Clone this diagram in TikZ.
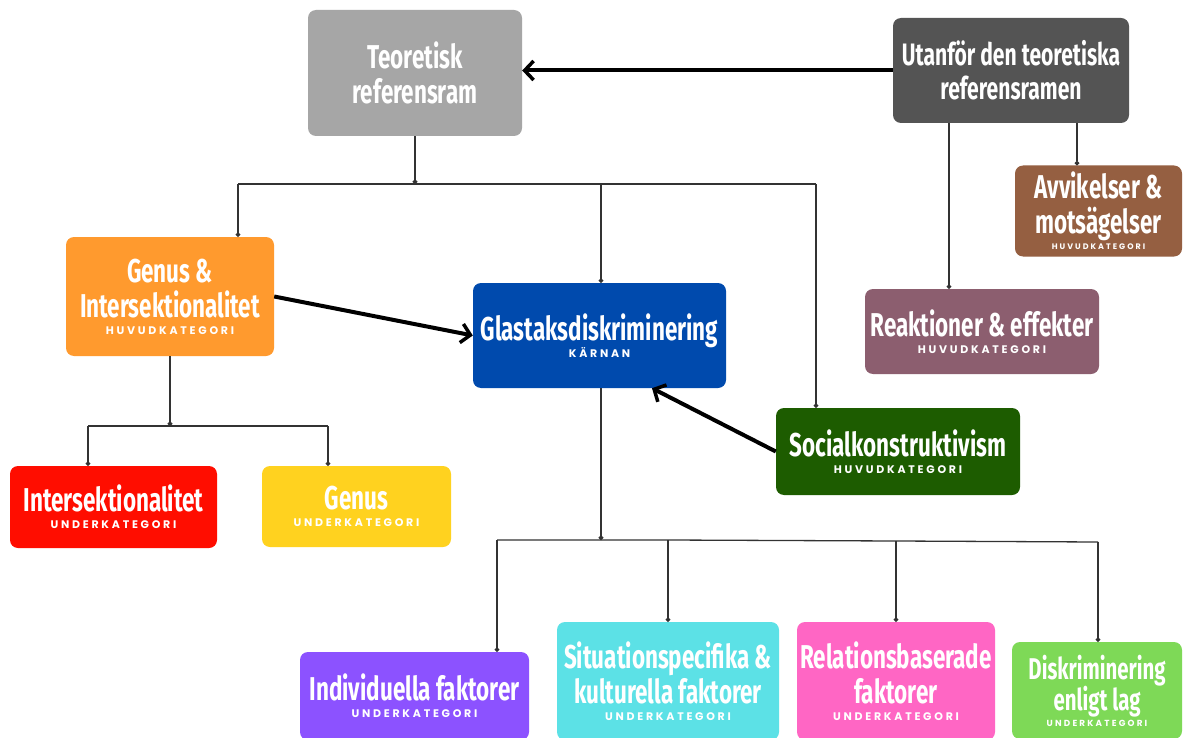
\documentclass[tikz,border=0pt]{standalone}
\usepackage{fontspec}
\usetikzlibrary{arrows.meta,calc}
\newfontfamily\titlefont[FakeStretch=0.68]{Fira Sans}
\newfontfamily\subfont[LetterSpace=25]{Poppins}
\newcommand{\subt}[2][11]{{\subfont\fontsize{#1}{35}\selectfont #2}}
\definecolor{cGray}{HTML}{A6A6A6}
\definecolor{cDark}{HTML}{545454}
\definecolor{cBrown}{HTML}{955F41}
\definecolor{cMauve}{HTML}{8C5E6F}
\definecolor{cOrange}{HTML}{FF9A2E}
\definecolor{cBlue}{HTML}{004AAD}
\definecolor{cDGreen}{HTML}{1D5C00}
\definecolor{cRed}{HTML}{FF0D00}
\definecolor{cYellow}{HTML}{FFD21F}
\definecolor{cPurple}{HTML}{8C52FF}
\definecolor{cCyan}{HTML}{5CE1E6}
\definecolor{cPink}{HTML}{FF66C4}
\definecolor{cGreen}{HTML}{7ED957}
\definecolor{cLine}{HTML}{333333}
\tikzset{
  box/.style={rounded corners=8pt, inner sep=0pt, text=white, align=center,
    font=\titlefont\bfseries\fontsize{33}{35}\selectfont},
  conn/.style={draw=cLine, line width=1.3pt},
  conndot/.style={conn, -{Circle[length=4.5pt]}},
  bigarrow/.style={draw=black, line width=4pt, -{Straight Barb[length=9pt,width=19pt,line width=3.5pt]}}
}
\begin{document}
\begin{tikzpicture}[x=1pt,y=-1pt]
\useasboundingbox[fill=white] (0,0) rectangle (1183,738);
% boxes
\node[box, fill=cGray, minimum width=214pt, minimum height=126pt] (T) at (415,73) {Teoretisk\\referensram};
\node[box, fill=cDark, minimum width=236pt, minimum height=105pt, font=\titlefont\bfseries\fontsize{31}{34}\selectfont] (U) at (1011,70.5) {Utanför den teoretiska\\referensramen};
\node[box, fill=cBrown, minimum width=167pt, minimum height=91pt] (A) at (1098.5,211) {Avvikelser \&\\motsägelser\\[-19pt]\subt[8]{HUVUDKATEGORI}};
\node[box, fill=cMauve, minimum width=234pt, minimum height=85pt] (R) at (982,331.5) {Reaktioner \& effekter\\[-18pt]\subt{HUVUDKATEGORI}};
\node[box, fill=cOrange, minimum width=208pt, minimum height=119pt] (G) at (170,296.5) {Genus \&\\Intersektionalitet\\[-18pt]\subt{HUVUDKATEGORI}};
\node[box, fill=cBlue, minimum width=253pt, minimum height=105pt] (Gl) at (599.5,335.5) {Glastaksdiskriminering\\[-18pt]\subt{KÄRNAN}};
\node[box, fill=cDGreen, minimum width=244pt, minimum height=87pt] (S) at (898,451.5) {Socialkonstruktivism\\[-18pt]\subt{HUVUDKATEGORI}};
\node[box, fill=cRed, minimum width=207pt, minimum height=82pt] (I) at (113.5,507) {Intersektionalitet\\[-18pt]\subt{UNDERKATEGORI}};
\node[box, fill=cYellow, minimum width=189pt, minimum height=81pt] (Ge) at (356.5,506.5) {Genus\\[-18pt]\subt{UNDERKATEGORI}};
\node[box, fill=cPurple, minimum width=229pt, minimum height=88pt] (In) at (414.5,696) {Individuella faktorer\\[-18pt]\subt{UNDERKATEGORI}};
\node[box, fill=cCyan, minimum width=222pt, minimum height=118pt] (Si) at (668,681) {Situationspecifika \&\\kulturella faktorer\\[-18pt]\subt{UNDERKATEGORI}};
\node[box, fill=cPink, minimum width=198pt, minimum height=118pt] (Re) at (896,681) {Relationsbaserade\\faktorer\\[-18pt]\subt{UNDERKATEGORI}};
\node[box, fill=cGreen, minimum width=170pt, minimum height=97pt, font=\titlefont\bfseries\fontsize{30}{31}\selectfont] (Di) at (1097,690.5) {Diskriminering\\enligt lag\\[-15pt]\subt[8.8]{UNDERKATEGORI}};
% junction coordinates
\coordinate (jT) at (415,184);
\coordinate (jTL) at (238,184);
\coordinate (jTM) at (601,184);
\coordinate (jTR) at (816,184);
\coordinate (jG) at (170,426);
\coordinate (jGL) at (88,426);
\coordinate (jGR) at (328,426);
\coordinate (jB) at (601,540);
\coordinate (jB1) at (497,540);
\coordinate (jB2) at (668,540);
\coordinate (jB3) at (896,541);
\coordinate (jB4) at (1098,542);
\coordinate (uR) at (949,123);
\coordinate (uA) at (1077,123);
% thin connectors
\draw[conndot] (T.south) -- (jT);
\draw[conn] (jTL) -- (jTR);
\draw[conndot] (jTL) -- (jTL |- G.north);
\draw[conndot] (jTM) -- (jTM |- Gl.north);
\draw[conndot] (jTR) -- (jTR |- S.north);
\draw[conndot] (uR) -- (uR |- R.north);
\draw[conndot] (uA) -- (uA |- A.north);
\draw[conndot] (G.south) -- (jG);
\draw[conn] (jGL) -- (jGR);
\draw[conndot] (jGL) -- (jGL |- I.north);
\draw[conndot] (jGR) -- (jGR |- Ge.north);
\draw[conndot] (jB |- Gl.south) -- (jB);
\draw[conn] (jB1) -- (jB) -- (jB2) -- (jB3) -- (jB4);
\draw[conndot] (jB1) -- (jB1 |- In.north);
\draw[conndot] (jB2) -- (jB2 |- Si.north);
\draw[conndot] (jB3) -- (jB3 |- Re.north);
\draw[conndot] (jB4) -- (jB4 |- Di.north);
% thick arrows
\draw[bigarrow] (U.west) -- (U.west -| T.east);
\draw[bigarrow] (G.east) -- (Gl.west);
\draw[bigarrow] (S.west) -- ([xshift=52.5pt]Gl.south);
\end{tikzpicture}
\end{document}
